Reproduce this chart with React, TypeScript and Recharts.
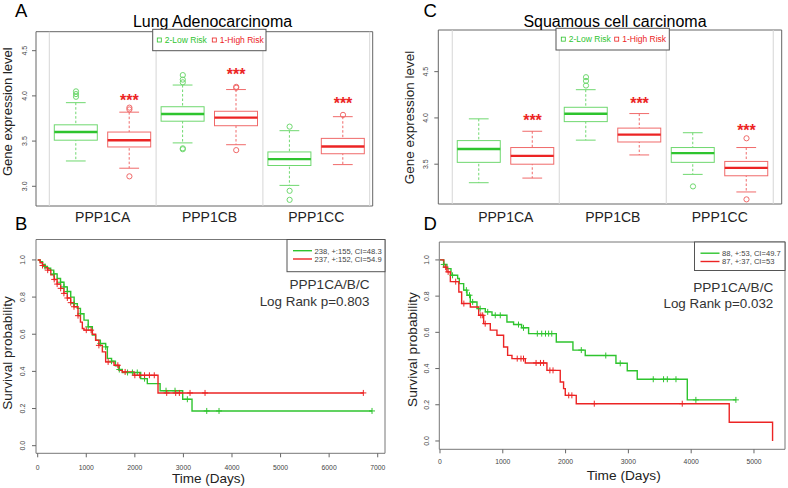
import React from 'react'
import {
  ComposedChart,
  Bar,
  Scatter,
  Line,
  XAxis,
  YAxis,
  ReferenceLine,
  ReferenceArea,
} from 'recharts'

const FONT = '"Liberation Sans", Arial, Helvetica, sans-serif'

const GENES = ['PPP1CA', 'PPP1CB', 'PPP1CC']
const RISK_LABELS = ['2-Low Risk', '1-High Risk']
const SEPARATORS = [0.5, 2.5, 4.5, 6.5]

// box stats per gene: [lower whisker, Q1, median, Q3, upper whisker]
const LUAD_LOW_RISK = [
  [3.28, 3.51, 3.6, 3.68, 3.925],
  [3.48, 3.72, 3.8, 3.88, 4.12],
  [3.01, 3.23, 3.3, 3.38, 3.615],
]
const LUAD_HIGH_RISK = [
  [3.2, 3.435, 3.51, 3.6, 3.82],
  [3.46, 3.67, 3.76, 3.83, 4.07],
  [3.24, 3.36, 3.44, 3.53, 3.77],
]
const LUAD_LOW_OUTLIERS = [[4.05, 4.02, 3.99], [4.23, 4.18, 4.15, 3.42, 3.41], [3.66, 2.95, 2.85]]
const LUAD_HIGH_OUTLIERS = [[3.87, 3.85, 3.11], [4.1, 4.09, 3.4], [3.79]]
const LUAD_STARS = [3.99, 4.27, 3.955]

const LUSC_LOW_RISK = [
  [3.3, 3.52, 3.665, 3.755, 3.99],
  [3.76, 3.96, 4.045, 4.115, 4.305],
  [3.39, 3.52, 3.62, 3.68, 3.84],
]
const LUSC_HIGH_RISK = [
  [3.35, 3.5, 3.59, 3.68, 3.856],
  [3.6, 3.74, 3.82, 3.89, 4.047],
  [3.2, 3.375, 3.46, 3.53, 3.68],
]
const LUSC_LOW_OUTLIERS = [[], [4.44, 4.4, 4.35], [3.26]]
const LUSC_HIGH_OUTLIERS = [[], [], [3.78, 3.12]]
const LUSC_STARS = [4.01, 4.195, 3.9]

// Kaplan-Meier curves: [days, survival]
const LUAD_LOW_SURV = [
  [0, 1], [50, 0.99], [100, 0.975], [150, 0.965], [200, 0.955], [267, 0.945], [330, 0.925],
  [400, 0.9], [470, 0.88], [541, 0.855], [610, 0.83], [680, 0.8], [750, 0.765], [816, 0.739],
  [880, 0.71], [953, 0.676], [1040, 0.64], [1125, 0.595], [1193, 0.568], [1290, 0.55],
  [1399, 0.532], [1434, 0.47], [1520, 0.455], [1600, 0.43], [1680, 0.41], [1742, 0.394],
  [2120, 0.361], [2257, 0.334], [2520, 0.296], [2985, 0.25], [3177, 0.187], [6883, 0.187],
]
const LUAD_HIGH_SURV = [
  [0, 1], [50, 0.985], [100, 0.97], [150, 0.958], [206, 0.945], [270, 0.92], [340, 0.895],
  [400, 0.87], [473, 0.847], [540, 0.82], [610, 0.795], [680, 0.77], [747, 0.748], [830, 0.7],
  [880, 0.665], [919, 0.631], [953, 0.622], [1125, 0.6], [1193, 0.568], [1260, 0.54],
  [1331, 0.505], [1399, 0.451], [1571, 0.433], [1674, 0.406], [1742, 0.397], [1983, 0.379],
  [2477, 0.284], [6704, 0.284],
]
const LUAD_LOW_CENSOR = [
  [150, 0.965], [330, 0.925], [470, 0.88], [541, 0.855], [610, 0.83], [750, 0.765], [880, 0.71],
  [1040, 0.64], [1290, 0.55], [1399, 0.532], [1520, 0.455], [1680, 0.41], [1850, 0.394],
  [1950, 0.394], [2050, 0.394], [2200, 0.361], [2642, 0.296], [2827, 0.296], [3081, 0.25],
  [3480, 0.187], [3733, 0.187], [6883, 0.187],
]
const LUAD_HIGH_CENSOR = [
  [100, 0.97], [206, 0.945], [340, 0.895], [400, 0.87], [473, 0.847], [540, 0.82], [610, 0.795],
  [680, 0.77], [747, 0.748], [830, 0.7], [1000, 0.622], [1100, 0.622], [1260, 0.54],
  [1450, 0.451], [1650, 0.433], [1800, 0.397], [2000, 0.379], [2100, 0.379], [2200, 0.379],
  [2300, 0.379], [2400, 0.379], [2656, 0.284], [2841, 0.284], [2916, 0.284], [3136, 0.284],
  [3445, 0.284], [6704, 0.284],
]

const LUSC_LOW_SURV = [
  [0, 1], [60, 0.975], [111, 0.952], [175, 0.915], [281, 0.897], [308, 0.869], [377, 0.833],
  [430, 0.805], [483, 0.768], [589, 0.731], [722, 0.713], [828, 0.694], [1066, 0.657],
  [1172, 0.643], [1300, 0.625], [1411, 0.593], [1852, 0.547], [2117, 0.502], [2313, 0.472],
  [2802, 0.429], [2982, 0.388], [3141, 0.341], [3938, 0.227], [4712, 0.227],
]
const LUSC_HIGH_SURV = [
  [0, 1], [58, 0.96], [110, 0.934], [165, 0.88], [300, 0.823], [345, 0.759], [483, 0.74],
  [616, 0.694], [695, 0.648], [801, 0.612], [907, 0.584], [1013, 0.519], [1077, 0.473],
  [1146, 0.455], [1358, 0.431], [1703, 0.39], [1915, 0.326], [1968, 0.289], [1995, 0.252],
  [2170, 0.206], [4606, 0.103], [5296, 0],
]
const LUSC_LOW_CENSOR = [
  [60, 0.975], [200, 0.915], [420, 0.833], [470, 0.805], [520, 0.768], [640, 0.731], [760, 0.713],
  [880, 0.694], [960, 0.694], [1250, 0.643], [1330, 0.625], [1550, 0.593], [1620, 0.593],
  [1680, 0.593], [1730, 0.593], [1780, 0.593], [2250, 0.502], [2640, 0.472], [2870, 0.429],
  [3396, 0.341], [3560, 0.341], [3620, 0.341], [3758, 0.341], [4075, 0.227], [4712, 0.227],
]
const LUSC_HIGH_CENSOR = [
  [90, 0.96], [130, 0.934], [250, 0.88], [380, 0.759], [650, 0.694], [680, 0.694], [720, 0.648],
  [1230, 0.455], [1290, 0.455], [1330, 0.455], [1530, 0.431], [1600, 0.431], [1650, 0.431],
  [1750, 0.39], [1800, 0.39], [2050, 0.252], [2100, 0.252], [2457, 0.206], [3858, 0.206],
]

const LUAD_LEGEND = ['238, +:155, CI=48.3', '237, +:152, CI=54.9']
const LUSC_LEGEND = ['88, +:53, CI=49.7', '87, +:37, CI=53']

const GREEN = '#2ec42e'
const GREEN_LIGHT = '#6fd86f'
const RED = '#ec2424'
const RED_LIGHT = '#f06a6a'

const RotTick = (props: any) => {
  const { x, y, payload } = props
  return (
    <text
      x={x}
      y={y}
      transform={`rotate(-90 ${x} ${y})`}
      textAnchor="middle"
      fontSize={7}
      fill="#444"
      fontFamily={FONT}
    >
      {Number(payload.value).toFixed(1)}
    </text>
  )
}

const BoxShape = (props: any) => {
  const { x, y, width, height } = props
  const d = props.payload ?? props
  const [lo, q1, med, q3, hi] = d.stats
  const top = Math.min(y, y + height)
  const h = Math.abs(height)
  const py = (v: number) => top + ((hi - v) / (hi - lo)) * h
  const cx = x + width / 2
  const cap = width * 0.46
  return (
    <g>
      <line x1={cx} x2={cx} y1={py(hi)} y2={py(lo)} stroke={d.light} strokeDasharray="2.5 2" />
      <line x1={cx - cap / 2} x2={cx + cap / 2} y1={py(hi)} y2={py(hi)} stroke={d.light} />
      <line x1={cx - cap / 2} x2={cx + cap / 2} y1={py(lo)} y2={py(lo)} stroke={d.light} />
      <rect x={x} y={py(q3)} width={width} height={py(q1) - py(q3)} fill="#fff" stroke={d.light} />
      <line x1={x} x2={x + width} y1={py(med)} y2={py(med)} stroke={d.dark} strokeWidth={2.4} />
    </g>
  )
}

const outlierShape = (color: string) => (p: any) =>
  <circle cx={p.cx} cy={p.cy} r={2.6} fill="none" stroke={color} strokeWidth={1} />

const StarShape = (p: any) => (
  <text x={p.cx} y={p.cy + 9} textAnchor="middle" fontSize={16} fontWeight="bold" fill={RED} fontFamily={FONT}>
    ***
  </text>
)

const plusShape = (color: string) => (p: any) => (
  <g stroke={color} strokeWidth={1}>
    <line x1={p.cx - 3} x2={p.cx + 3} y1={p.cy} y2={p.cy} />
    <line x1={p.cx} x2={p.cx} y1={p.cy - 3} y2={p.cy + 3} />
  </g>
)

function BoxPanel(props: any) {
  const { low, high, lowOut, highOut, stars, xDomain, yDomain, yTicks, width, height, margin, yAxisWidth, xAxisHeight, xTickMargin, yTickMargin } = props
  const boxes = GENES.flatMap((_, i) => [
    { pos: 2 * i + 1, range: [low[i][0], low[i][4]], stats: low[i], light: GREEN_LIGHT, dark: GREEN },
    { pos: 2 * i + 2, range: [high[i][0], high[i][4]], stats: high[i], light: RED_LIGHT, dark: RED },
  ])
  const greenPts = lowOut.flatMap((vals: number[], i: number) => vals.map((v) => ({ pos: 2 * i + 1, v })))
  const redPts = highOut.flatMap((vals: number[], i: number) => vals.map((v) => ({ pos: 2 * i + 2, v })))
  const starPts = stars.map((v: number, i: number) => ({ pos: 2 * i + 2, v }))
  return (
    <ComposedChart width={width} height={height} margin={margin} data={boxes}>
      <XAxis
        type="number"
        dataKey="pos"
        domain={xDomain}
        allowDataOverflow
        ticks={[1.5, 3.5, 5.5]}
        interval={0}
        tickFormatter={(v: number) => GENES[Math.round((v - 1.5) / 2)]}
        axisLine={false}
        tickLine={false}
        tickSize={6}
        tickMargin={xTickMargin}
        height={xAxisHeight}
        tick={{ fontSize: 14, fill: '#222', fontFamily: FONT }}
      />
      <YAxis
        type="number"
        domain={yDomain}
        allowDataOverflow
        ticks={yTicks}
        width={yAxisWidth}
        axisLine={false}
        tickSize={4}
        tickMargin={yTickMargin}
        tickLine={{ stroke: '#666' }}
        tick={<RotTick />}
      />
      {SEPARATORS.map((s) => (
        <ReferenceLine key={s} x={s} stroke="#d6d6d6" ifOverflow="visible" />
      ))}
      <Bar dataKey="range" barSize={43} shape={BoxShape} isAnimationActive={false} />
      <Scatter data={greenPts} dataKey="v" shape={outlierShape(GREEN_LIGHT)} isAnimationActive={false} />
      <Scatter data={redPts} dataKey="v" shape={outlierShape(RED_LIGHT)} isAnimationActive={false} />
      <Scatter data={starPts} dataKey="v" shape={StarShape} isAnimationActive={false} />
      <ReferenceArea
        x1={xDomain[0]}
        x2={xDomain[1]}
        y1={yDomain[0]}
        y2={yDomain[1]}
        fill="none"
        stroke="#666"
        ifOverflow="visible"
      />
    </ComposedChart>
  )
}

function SurvivalPanel(props: any) {
  const { low, high, lowCensor, highCensor, xDomain, yDomain, xTicks, width, height, margin, yAxisWidth, xAxisHeight, xTickMargin, yTickMargin } = props
  const pts = (arr: number[][]) => arr.map(([t, s]) => ({ t, s }))
  return (
    <ComposedChart width={width} height={height} margin={margin}>
      <XAxis
        type="number"
        dataKey="t"
        domain={xDomain}
        allowDataOverflow
        ticks={xTicks}
        interval={0}
        axisLine={false}
        tickSize={4}
        tickMargin={xTickMargin}
        tickLine={{ stroke: '#666' }}
        height={xAxisHeight}
        tick={{ fontSize: 6.8, fill: '#444', fontFamily: FONT }}
      />
      <YAxis
        type="number"
        domain={yDomain}
        allowDataOverflow
        ticks={[0, 0.2, 0.4, 0.6, 0.8, 1]}
        width={yAxisWidth}
        axisLine={false}
        tickSize={4}
        tickMargin={yTickMargin}
        tickLine={{ stroke: '#666' }}
        tick={<RotTick />}
      />
      <Line data={pts(low)} dataKey="s" type="stepAfter" stroke={GREEN} strokeWidth={1.4} dot={false} isAnimationActive={false} />
      <Line data={pts(high)} dataKey="s" type="stepAfter" stroke={RED} strokeWidth={1.4} dot={false} isAnimationActive={false} />
      <Scatter data={pts(lowCensor)} dataKey="s" shape={plusShape(GREEN)} isAnimationActive={false} />
      <Scatter data={pts(highCensor)} dataKey="s" shape={plusShape(RED)} isAnimationActive={false} />
      <ReferenceArea
        x1={xDomain[0]}
        x2={xDomain[1]}
        y1={yDomain[0]}
        y2={yDomain[1]}
        fill="none"
        stroke="#777"
        ifOverflow="visible"
      />
    </ComposedChart>
  )
}

const BoxLegend = ({ x, y, w, h, greenX, redX }: any) => (
  <g fontFamily={FONT} fontSize={8.5}>
    <rect x={x} y={y} width={w} height={h} fill="#fff" stroke="#555" />
    <rect x={greenX - 2} y={y + h / 2 - 2} width={4} height={4} fill="none" stroke={GREEN} strokeWidth={0.8} />
    <text x={greenX + 5.5} y={y + h / 2 + 3} fill={GREEN}>{RISK_LABELS[0]}</text>
    <rect x={redX - 2} y={y + h / 2 - 2} width={4} height={4} fill="none" stroke={RED} strokeWidth={0.8} />
    <text x={redX + 5.5} y={y + h / 2 + 3} fill={RED}>{RISK_LABELS[1]}</text>
  </g>
)

const SurvLegend = ({ x, y, w, h, labels }: any) => (
  <g fontFamily={FONT} fontSize={7.6}>
    <rect x={x} y={y} width={w} height={h} fill="#fff" stroke="#555" />
    <line x1={x + 6} x2={x + 25} y1={y + 11.2} y2={y + 11.2} stroke={GREEN} strokeWidth={1.4} />
    <text x={x + 27.5} y={y + 14} fill="#444">{labels[0]}</text>
    <line x1={x + 6} x2={x + 25} y1={y + 19.5} y2={y + 19.5} stroke={RED} strokeWidth={1.4} />
    <text x={x + 27.5} y={y + 22.3} fill="#444">{labels[1]}</text>
  </g>
)

const Overlay = () => (
  <svg
    width={788}
    height={488}
    style={{ position: 'absolute', left: 0, top: 0, pointerEvents: 'none' }}
    fontFamily={FONT}
  >
    <text x={15} y={17} fontSize={18.5}>A</text>
    <text x={423.5} y={17} fontSize={18.5}>C</text>
    <text x={15} y={229.8} fontSize={18.5}>B</text>
    <text x={423.5} y={229.8} fontSize={18.5}>D</text>

    <text x={212.5} y={26.7} fontSize={16} textAnchor="middle">Lung Adenocarcinoma</text>
    <text x={615} y={26.7} fontSize={16} textAnchor="middle">Squamous cell carcinoma</text>

    <text x={12.3} y={111.7} fontSize={13} textAnchor="middle" fill="#222" transform="rotate(-90 12.3 111.7)">
      Gene expression level
    </text>
    <text x={414} y={117.5} fontSize={13.5} textAnchor="middle" fill="#222" transform="rotate(-90 414 117.5)">
      Gene expression level
    </text>
    <text x={12.2} y={353} fontSize={13.5} textAnchor="middle" fill="#222" transform="rotate(-90 12.2 353)">
      Survival probability
    </text>
    <text x={417} y={349.5} fontSize={13.7} textAnchor="middle" fill="#222" transform="rotate(-90 417 349.5)">
      Survival probability
    </text>
    <text x={208.5} y={483.3} fontSize={13.5} textAnchor="middle" fill="#222">Time (Days)</text>
    <text x={623.7} y={480} fontSize={13.7} textAnchor="middle" fill="#222">Time (Days)</text>

    <text x={369.5} y={289.3} fontSize={13.6} textAnchor="end" fill="#333">PPP1CA/B/C</text>
    <text x={369.5} y={306} fontSize={13.4} textAnchor="end" fill="#333">Log Rank p=0.803</text>
    <text x={773.3} y={291.7} fontSize={13.6} textAnchor="end" fill="#333">PPP1CA/B/C</text>
    <text x={773.3} y={307.5} fontSize={13.4} textAnchor="end" fill="#333">Log Rank p=0.032</text>

    <BoxLegend x={152.7} y={29.3} w={113.3} h={21.4} greenX={159.3} redX={214.3} />
    <BoxLegend x={556} y={28.3} w={113.3} h={21.7} greenX={563.3} redX={616.7} />
    <SurvLegend x={287} y={239.5} w={98} h={32.2} labels={LUAD_LEGEND} />
    <SurvLegend x={694.5} y={242} w={90.5} h={28.5} labels={LUSC_LEGEND} />
  </svg>
)

export default function App() {
  return (
    <div style={{ position: 'absolute', left: 0, top: 0, width: 788, height: 488, background: '#fff', fontFamily: FONT }}>
      <div style={{ position: 'absolute', left: 0, top: 0 }}>
        <BoxPanel
          low={LUAD_LOW_RISK}
          high={LUAD_HIGH_RISK}
          lowOut={LUAD_LOW_OUTLIERS}
          highOut={LUAD_HIGH_OUTLIERS}
          stars={LUAD_STARS}
          xDomain={[0.251, 6.556]}
          yDomain={[2.782, 4.71]}
          yTicks={[3, 3.5, 4, 4.5]}
          width={390}
          height={232}
          margin={{ top: 31.7, right: 17.3, left: 0, bottom: 0 }}
          yAxisWidth={36}
          xAxisHeight={26}
          xTickMargin={0}
          yTickMargin={5.3}
        />
      </div>
      <div style={{ position: 'absolute', left: 395, top: 0 }}>
        <BoxPanel
          low={LUSC_LOW_RISK}
          high={LUSC_HIGH_RISK}
          lowOut={LUSC_LOW_OUTLIERS}
          highOut={LUSC_HIGH_OUTLIERS}
          stars={LUSC_STARS}
          xDomain={[0.239, 6.658]}
          yDomain={[3.07, 4.95]}
          yTicks={[3.5, 4, 4.5]}
          width={393}
          height={232}
          margin={{ top: 30, right: 6.3, left: 0, bottom: 0 }}
          yAxisWidth={43.3}
          xAxisHeight={28}
          xTickMargin={2}
          yTickMargin={6}
        />
      </div>
      <div style={{ position: 'absolute', left: 0, top: 230 }}>
        <SurvivalPanel
          low={LUAD_LOW_SURV}
          high={LUAD_HIGH_SURV}
          lowCensor={LUAD_LOW_CENSOR}
          highCensor={LUAD_HIGH_CENSOR}
          xDomain={[-35, 7150]}
          yDomain={[-0.041, 1.11]}
          xTicks={[0, 1000, 2000, 3000, 4000, 5000, 6000, 7000]}
          width={390}
          height={258}
          margin={{ top: 9.5, right: 5, left: 0, bottom: 0 }}
          yAxisWidth={36}
          xAxisHeight={34.7}
          xTickMargin={8}
          yTickMargin={6.7}
        />
      </div>
      <div style={{ position: 'absolute', left: 395, top: 230 }}>
        <SurvivalPanel
          low={LUSC_LOW_SURV}
          high={LUSC_HIGH_SURV}
          lowCensor={LUSC_LOW_CENSOR}
          highCensor={LUSC_HIGH_CENSOR}
          xDomain={[-11, 5494]}
          yDomain={[-0.046, 1.099]}
          xTicks={[0, 1000, 2000, 3000, 4000, 5000]}
          width={393}
          height={258}
          margin={{ top: 12, right: 3, left: 0, bottom: 0 }}
          yAxisWidth={44.3}
          xAxisHeight={38.7}
          xTickMargin={6}
          yTickMargin={6.3}
        />
      </div>
      <Overlay />
    </div>
  )
}
